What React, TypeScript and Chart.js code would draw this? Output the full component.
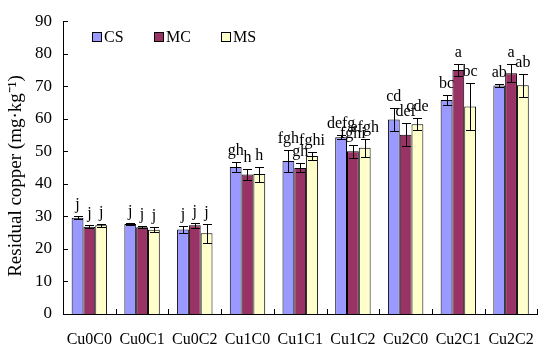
import React, { useEffect, useRef } from 'react';
import { Chart, registerables } from 'chart.js';
Chart.register(...registerables);

const FONT = '"Liberation Serif", "Times New Roman", serif';

const categories = ['Cu0C0', 'Cu0C1', 'Cu0C2', 'Cu1C0', 'Cu1C1', 'Cu1C2', 'Cu2C0', 'Cu2C1', 'Cu2C2'];
const seriesNames = ['CS', 'MC', 'MS'];
const csValues = [29.6, 27.7, 26.0, 45.2, 47.0, 54.3, 59.8, 65.8, 70.2];
const mcValues = [26.8, 26.7, 27.3, 42.9, 44.9, 50.0, 55.1, 75.0, 74.0];
const msValues = [27.3, 25.9, 24.8, 43.0, 48.6, 51.1, 58.3, 63.8, 70.3];
const csErrors = [0.4, 0.2, 1.0, 1.6, 3.3, 0.6, 3.4, 1.5, 0.4];
const mcErrors = [0.5, 0.3, 0.8, 1.6, 1.4, 2.0, 3.5, 1.7, 2.8];
const msErrors = [0.5, 0.8, 3.0, 2.3, 1.3, 2.7, 1.8, 7.2, 3.5];
const csLetters = ['j', 'j', 'j', 'gh', 'fgh', 'defg', 'cd', 'bc', 'ab'];
const mcLetters = ['j', 'j', 'j', 'h', 'gh', 'fghi', 'def', 'a', 'a'];
const msLetters = ['j', 'j', 'j', 'h', 'fghi', 'efgh', 'cde', 'bc', 'ab'];
const yTicks = [0, 10, 20, 30, 40, 50, 60, 70, 80, 90];
const yTitle = 'Residual copper (mg·kg⁻¹)';
const colors = ['#9999FF', '#993366', '#FFFFCC'];

export default function App() {
  const ref = useRef<HTMLCanvasElement>(null);
  useEffect(() => {
    const values = [csValues, mcValues, msValues];
    const errors = [csErrors, mcErrors, msErrors];
    const letters = [csLetters, mcLetters, msLetters];
    const overlay = {
      id: 'overlay',
      afterDatasetsDraw(chart: any) {
        const ctx = chart.ctx;
        const ys = chart.scales.y;
        const xs = chart.scales.x;
        const area = chart.chartArea;
        ctx.save();
        ctx.strokeStyle = '#000';
        ctx.lineWidth = 1;
        ctx.fillStyle = '#000';
        for (let d = 0; d < 3; d++) {
          const meta = chart.getDatasetMeta(d);
          meta.data.forEach((bar: any, i: number) => {
            const x = Math.round(bar.x) + 0.5;
            const top = Math.round(ys.getPixelForValue(values[d][i] + errors[d][i])) + 0.5;
            const bot = Math.round(ys.getPixelForValue(values[d][i] - errors[d][i])) + 0.5;
            ctx.beginPath();
            ctx.moveTo(x, top); ctx.lineTo(x, bot);
            ctx.moveTo(x - 4.5, top); ctx.lineTo(x + 4.5, top);
            ctx.moveTo(x - 4.5, bot); ctx.lineTo(x + 4.5, bot);
            ctx.stroke();
            ctx.font = '16px ' + FONT;
            ctx.textAlign = 'center';
            ctx.textBaseline = 'alphabetic';
            ctx.fillText(letters[d][i], bar.x, top - 8);
          });
        }
        ctx.beginPath();
        yTicks.forEach((v) => {
          const py = Math.round(ys.getPixelForValue(v)) + 0.5;
          ctx.moveTo(area.left, py); ctx.lineTo(area.left + 5, py);
        });
        const n = categories.length;
        for (let i = 1; i <= n; i++) {
          const px = Math.round(xs.left + (i * (xs.right - xs.left)) / n) + 0.5;
          ctx.moveTo(px, area.bottom); ctx.lineTo(px, area.bottom - 5);
        }
        ctx.stroke();
        const lx = [92, 154, 221];
        ctx.font = '16px ' + FONT;
        ctx.textAlign = 'left';
        ctx.textBaseline = 'middle';
        for (let d = 0; d < 3; d++) {
          ctx.fillStyle = colors[d];
          ctx.fillRect(lx[d], 32, 10, 10);
          ctx.strokeStyle = '#000';
          ctx.strokeRect(lx[d] + 0.5, 32.5, 9, 9);
          ctx.fillStyle = '#000';
          ctx.fillText(seriesNames[d], lx[d] + 12, 38);
        }
        ctx.translate(16, 176);
        ctx.rotate(-Math.PI / 2);
        ctx.font = '19px ' + FONT;
        ctx.textAlign = 'center';
        ctx.textBaseline = 'middle';
        ctx.fillText(yTitle, 0, 0);
        ctx.restore();
      },
    };
    const chart = new Chart(ref.current as HTMLCanvasElement, {
      type: 'bar',
      data: {
        labels: categories,
        datasets: [0, 1, 2].map((d) => ({
          label: seriesNames[d],
          data: values[d],
          backgroundColor: colors[d],
          borderColor: '#000',
          borderWidth: 1,
          categoryPercentage: 0.672,
          barPercentage: 1.0,
        })),
      },
      options: {
        responsive: false,
        animation: false,
        layout: { padding: { top: 10, right: 5, left: 0, bottom: 0 } },
        plugins: { legend: { display: false }, tooltip: { enabled: false }, title: { display: false } },
        scales: {
          x: {
            grid: { display: false, drawTicks: false },
            border: { display: true, color: '#000', width: 1 },
            ticks: { color: '#000', font: { family: FONT, size: 16 }, padding: 16, maxRotation: 0, autoSkip: false },
            afterFit: (s: any) => { s.height = 38; },
          },
          y: {
            min: 0,
            max: 90,
            grid: { display: false, drawTicks: false },
            border: { display: true, color: '#000', width: 1 },
            ticks: { stepSize: 10, color: '#000', font: { family: FONT, size: 17 }, padding: 11 },
            afterFit: (s: any) => { s.width = 63; },
          },
        },
      },
      plugins: [overlay],
    });
    return () => chart.destroy();
  }, []);
  return (
    <div style={{ position: 'fixed', left: 0, top: 0, width: 550, height: 352, background: '#fff' }}>
      <canvas ref={ref} width={550} height={352} />
    </div>
  );
}
